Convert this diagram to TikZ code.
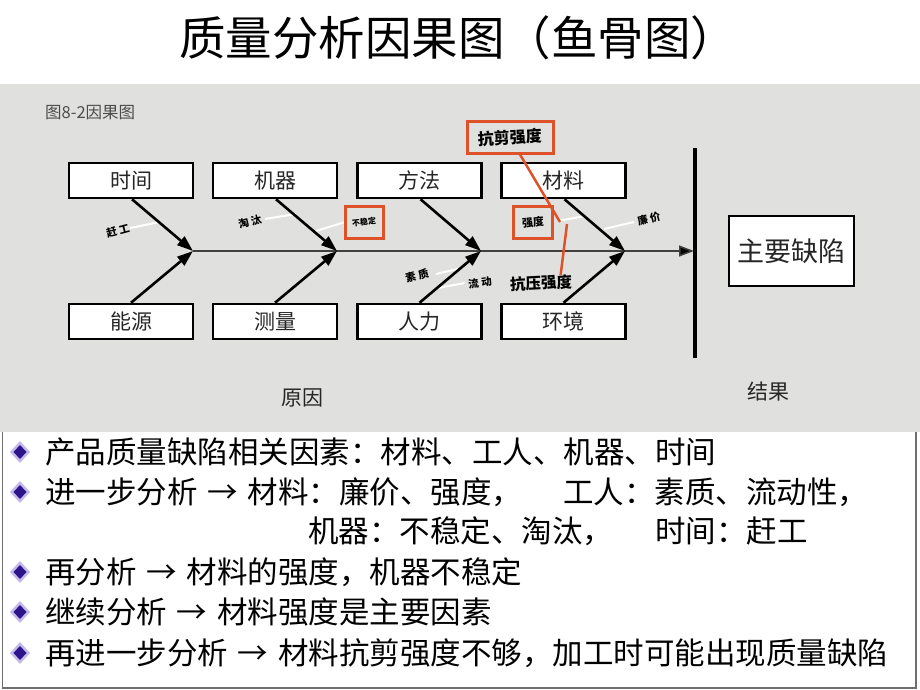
\documentclass[tikz,border=0pt]{standalone}
\usepackage{fontspec}
\setmainfont{Noto Sans CJK SC}
\usetikzlibrary{arrows.meta}
\definecolor{panel}{RGB}{224,225,222}
\definecolor{hl}{RGB}{222,82,42}
\definecolor{bul}{RGB}{46,20,140}
\definecolor{bulo}{RGB}{196,186,232}
\definecolor{frame}{RGB}{110,110,110}
\newcommand{\gk}{\kern2.5pt}
\tikzset{
  cbox/.style={draw=black, line width=2.5pt, fill=white, minimum width=124pt, minimum height=35pt, inner sep=0pt, font=\fontsize{21}{21}\selectfont, text=black!85},
  bone/.style={line width=2.6pt, -{Triangle[length=16pt,width=11pt]}},
  spineline/.style={line width=1.5pt, draw=black!75, -{Triangle[length=15pt,width=11pt,fill=black]}},
  twig/.style={draw=white, line width=2pt},
  tinylab/.style={font=\bfseries\fontsize{10.5}{10.5}\selectfont, inner sep=0pt, text=black},
  redbox/.style={draw=hl, line width=3pt, inner sep=0pt},
  redline/.style={draw=hl, line width=2.5pt},
  bodytext/.style={anchor=west, inner sep=0pt, font=\fontsize{30.5}{31}\selectfont},
  caplab/.style={font=\fontsize{21}{21}\selectfont, text=black!85, inner sep=0pt},
}
\begin{document}
\begin{tikzpicture}[x=1pt,y=-1pt]
\useasboundingbox (0,0) rectangle (920,690);
\fill[white] (0,0) rectangle (920,690);
% gray panel
\fill[panel] (0,84) rectangle (920,432);
% bottom frame (three sides)
\draw[frame, line width=1.5pt] (2.5,432) -- (2.5,688) -- (916,688) -- (916,432);

% title
\node[font=\fontsize{46.5}{46.5}\selectfont, inner sep=0pt] (title) at (458,38) {质量分析因果图（鱼骨图）};

% figure caption
\node[anchor=west, inner sep=0pt, font=\fontsize{16.5}{16.5}\selectfont, text=black!70] (figcap) at (45,113) {图8-2因果图};

% boxes
\node[cbox] (t1) at (131,180.5) {时间};
\node[cbox] (t2) at (275,180.5) {机器};
\node[cbox] (t3) at (419.5,180.5) {方法};
\node[cbox] (t4) at (563.5,180.5) {材料};
\node[cbox] (b1) at (131,321.5) {能源};
\node[cbox] (b2) at (275,321.5) {测量};
\node[cbox] (b3) at (419.5,321.5) {人力};
\node[cbox] (b4) at (563.5,321.5) {环境};

% junctions on spine
\coordinate (j1) at (193,251);
\coordinate (j2) at (337,251);
\coordinate (j3) at (481,251);
\coordinate (j4) at (625,251);
\coordinate (barpt) at (694,251);
\coordinate (bartop) at (695,148);
\coordinate (barbot) at (695,358);

% white twigs
\coordinate (w1a) at (130,228); \coordinate (w1b) at (160,222);
\coordinate (w2a) at (265,219); \coordinate (w2b) at (296,214);
\coordinate (w3a) at (316,231); \coordinate (w3b) at (345,222);
\coordinate (w4a) at (558,221); \coordinate (w4b) at (585,216);
\coordinate (w5a) at (604,229); \coordinate (w5b) at (634,222);
\coordinate (w6a) at (436,274); \coordinate (w6b) at (462,268);
\coordinate (w7a) at (438,288); \coordinate (w7b) at (465,283);
\foreach \a/\b in {w1a/w1b,w2a/w2b,w3a/w3b,w4a/w4b,w5a/w5b,w6a/w6b,w7a/w7b}
  \draw[twig] (\a) -- (\b);

% spine and bar
\draw[spineline] (j1) -- (barpt);
\draw[line width=4pt] (bartop) -- (barbot);

% bones
\draw[bone] ([xshift=1pt]t1.south) -- (j1);
\draw[bone] ([xshift=1pt]t2.south) -- (j2);
\draw[bone] ([xshift=1pt]t3.south) -- (j3);
\draw[bone] ([xshift=1pt]t4.south) -- (j4);
\draw[bone] (b1.north) -- (j1);
\draw[bone] (b2.north) -- (j2);
\draw[bone] (b3.north) -- (j3);
\draw[bone] (b4.north) -- (j4);

% small labels
\node[tinylab, rotate=15] (l1) at (118,231) {赶\gk 工};
\node[tinylab, rotate=15] (l2) at (250,222) {淘\gk 汰};
\node[redbox, minimum width=38pt, minimum height=32pt] (r1) at (364,222) {};
\node[tinylab, font=\bfseries\fontsize{8}{8}\selectfont, rotate=6] (l3) at (364,222) {不稳定};
\node[redbox, minimum width=39pt, minimum height=32pt] (r2) at (532.5,222) {};
\node[tinylab, font=\bfseries\fontsize{11}{11}\selectfont, rotate=6] (l4) at (533,222) {强度};
\node[tinylab, rotate=15] (l5) at (649,219) {廉\gk 价};
\node[tinylab, rotate=15] (l6) at (417,276) {素\gk 质};
\node[tinylab, rotate=8] (l7) at (480,283) {流\gk 动};
\node[tinylab, font=\bfseries\fontsize{15.5}{15.5}\selectfont, rotate=3] (l8) at (541,283) {抗压强度};
\node[redbox, minimum width=86pt, minimum height=31pt] (r3) at (510,137.5) {};
\node[tinylab, font=\bfseries\fontsize{16}{16}\selectfont, rotate=3] (l9) at (510,137.5) {抗剪强度};

% red leader lines
\coordinate (rl1) at (560,222);
\coordinate (rl2) at (567,224);
\draw[redline] ([xshift=10pt]r3.south) -- (rl1);
\draw[redline] (rl2) -- ([xshift=20pt]l8.north);

% result
\node[cbox, minimum width=125pt, minimum height=70pt, font=\fontsize{27}{27}\selectfont] (res) at (791.5,251) {主要缺陷};
\node[caplab] (cause) at (302,398) {原因};
\node[caplab] (effect) at (768,392) {结果};

% bullets
\foreach \y in {452,492,572,612,653}{
  \fill[bulo] (20,\y-11) -- (30,\y) -- (20,\y+11) -- (10,\y) -- cycle;
  \fill[bul] (20,\y-7) -- (26.5,\y) -- (20,\y+7) -- (13.5,\y) -- cycle;
}

% body text
\node[bodytext] (s1) at (45,452) {产品质量缺陷相关因素：材料、工人、机器、时间};
\node[bodytext] (s2) at (45,492) {进一步分析\makebox[50pt]{→}材料：廉价、强度，};
\node[bodytext] (s2b) at (563,492) {工人：素质、流动性，};
\node[bodytext] (s3) at (308,531) {机器：不稳定、淘汰，};
\node[bodytext] (s3b) at (655,531) {时间：赶工};
\node[bodytext] (s4) at (45,572) {再分析\makebox[50pt]{→}材料的强度，机器不稳定};
\node[bodytext] (s5) at (45,612) {继续分析\makebox[50pt]{→}材料强度是主要因素};
\node[bodytext] (s6) at (45,653) {再进一步分析\makebox[50pt]{→}材料抗剪强度不够，加工时可能出现质量缺陷};
\end{tikzpicture}
\end{document}
